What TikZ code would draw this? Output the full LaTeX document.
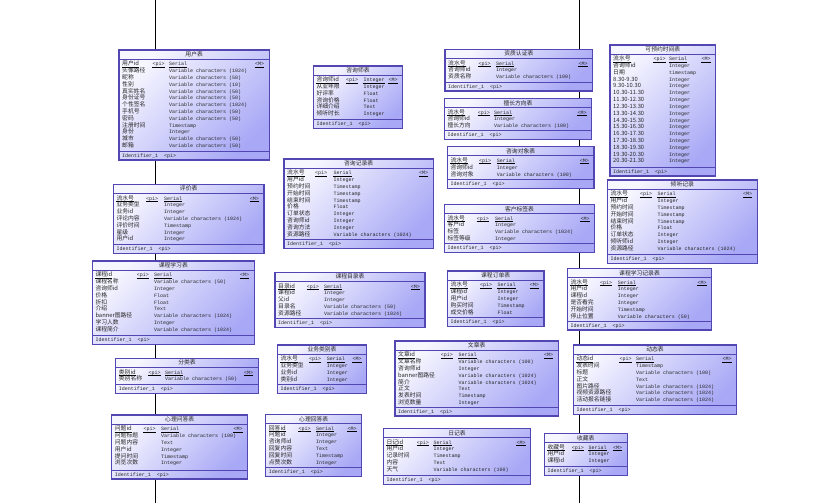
\documentclass[tikz,border=0pt]{standalone}
\usepackage{fontspec}
\setmainfont{Liberation Mono}
\newfontfamily\cjk{Noto Sans CJK SC}

\definecolor{tblborder}{RGB}{82,70,178}
\definecolor{tbltop}{RGB}{246,246,255}
\definecolor{tblbottom}{RGB}{168,168,246}

% one table of the data model: name, left, top, right, bottom, <pi> column, type column, title, rows
\newcommand{\dbtable}[9]{%
  \node[tblbox, minimum width={(#4-#2)*1pt}, minimum height={(#5-#3)*1pt}] (#1) at (#2,#3) {};
  \node[tbltitle] (#1-title) at ([yshift=-4.5pt]#1.north) {#8};
  \draw[tblline] ([yshift=-9pt]#1.north west) -- ([yshift=-9pt]#1.north east);
  \draw[tblline] ([yshift=9pt]#1.south west) -- ([yshift=9pt]#1.south east);
  \begin{scope}
    \clip (#1.north west) rectangle (#1.south east);
    \foreach \fname/\ftype [count=\i] in {#9} {
      \pgfmathsetmacro\rowy{-(14+(\i-1)*6.8)-1.8}
      \node[colname] (#1-n\i) at ([xshift=3pt, yshift=\rowy pt]#1.north west) {\fname};
      \node[coltype] (#1-t\i) at ([xshift=#7pt, yshift=\rowy pt]#1.north west) {\ftype};
      \ifnum\i=1
        \node[coltype] (#1-pi) at ([xshift=#6pt, yshift=\rowy pt]#1.north west) {<pi>};
        \node[coltype, anchor=base east] (#1-m) at ([xshift=-5pt, yshift=\rowy pt]#1.north east) {<M>};
        \foreach \k in {n1,t1,pi,m}
          \draw[pkline] ([yshift=-1.3pt]#1-\k.base west) -- ([yshift=-1.3pt]#1-\k.base east);
      \fi
    }
  \end{scope}
  \node[coltype] (#1-id) at ([xshift=3pt, yshift=2.8pt]#1.south west) {Identifier\_1\ \ <pi>};
}

\begin{document}
\begin{tikzpicture}[x=1pt, y=-1pt,
  tblbox/.style={draw=tblborder, line width=1.2pt, top color=tbltop, bottom color=tblbottom, shading angle=45, anchor=north west, inner sep=0pt, outer sep=0pt},
  tblline/.style={draw=tblborder, line width=0.9pt},
  tbltitle/.style={inner sep=0pt, text=black!85, font=\cjk\fontsize{5.8}{6}\selectfont},
  colname/.style={anchor=base west, inner sep=0pt, text=black!85, font=\cjk\fontsize{5.8}{6}\selectfont},
  coltype/.style={anchor=base west, inner sep=0pt, text=black!85, font=\fontsize{5}{6}\selectfont},
  pkline/.style={draw=black, line width=0.9pt},
  link/.style={draw=black, line width=1pt}]
\useasboundingbox (0,0) rectangle (817,503);
\coordinate (linkL-top) at (155,0);
\coordinate (linkL-bot) at (155,503);
\coordinate (linkR-top) at (579.5,0);
\coordinate (linkR-bot) at (579.5,503);
\draw[link] (linkL-top) -- (linkL-bot);
\draw[link] (linkR-top) -- (linkR-bot);

\dbtable{user}{119}{50}{269.3}{160}{33.3}{50}{用户表}{用户id/Serial, 头像路径/Variable characters (1024), 昵称/Variable characters (50), 性别/Variable characters (10), 真实姓名/Variable characters (50), 身份证号/Variable characters (50), 个性签名/Variable characters (1024), 手机号/Variable characters (50), 密码/Variable characters (50), 注册时间/Timestamp, 身份/Integer, 城市/Variable characters (50), 邮箱/Variable characters (50)}
\dbtable{counselor}{313.3}{66}{402.7}{128.3}{32.7}{50}{咨询师表}{咨询师id/Integer, 从业年限/Integer, 好评率/Float, 咨询价格/Float, 详细介绍/Text, 倾听时长/Integer}
\dbtable{record}{284}{159}{433.3}{248.3}{31}{49.3}{咨询记录表}{流水号/Serial, 用户id/Integer, 预约时间/Timestamp, 开始时间/Timestamp, 结束时间/Timestamp, 价格/Float, 订单状态/Integer, 咨询师id/Integer, 咨询方法/Integer, 资源路径/Variable characters (1024)}
\dbtable{qualify}{445}{49.3}{592.7}{91}{33.3}{51}{资质认证表}{流水号/Serial, 咨询师id/Integer, 资质名称/Variable characters (100)}
\dbtable{skill}{444.3}{98.3}{591.7}{139.3}{33.4}{49.7}{擅长方向表}{流水号/Serial, 咨询师id/Integer, 擅长方向/Variable characters (100)}
\dbtable{target}{447.3}{146.7}{594}{188.3}{31.7}{49.4}{咨询对象表}{流水号/Serial, 咨询师id/Integer, 咨询对象/Variable characters (100)}
\dbtable{slot}{610}{45}{715.7}{176}{43.3}{59}{可预约时间表}{流水号/Serial, 咨询师id/Integer, 日期/timestamp, 8.30-9.30/Integer, 9.30-10.30/Integer, 10.30-11.30/Integer, 11.30-12.30/Integer, 12.30-13.30/Integer, 13.30-14.30/Integer, 14.30-15.30/Integer, 15.30-16.30/Integer, 16.30-17.30/Integer, 17.30-18.30/Integer, 18.30-19.30/Integer, 19.30-20.30/Integer, 20.30-21.30/Integer}
\dbtable{review}{113.3}{184.3}{264}{253.3}{32.7}{50.7}{评价表}{流水号/Serial, 业务类型/Integer, 业务id/Integer, 评论内容/Variable characters (1024), 评价时间/Timestamp, 星级/Integer, 用户id/Integer}
\dbtable{course}{92.3}{261}{254.3}{344.3}{44.4}{61.7}{课程学习表}{课程id/Serial, 课程名称/Variable characters (50), 咨询师id/Integer, 价格/Float, 折扣/Float, 介绍/Text, banner图路径/Variable characters (1024), 学习人数/Integer, 课程简介/Variable characters (1024)}
\dbtable{tag}{444.3}{204.3}{594.7}{252.3}{32.4}{50.7}{客户标签表}{流水号/Serial, 客户id/Integer, 标签/Variable characters (1024), 标签等级/Integer}
\dbtable{listen}{607.3}{180}{757.3}{263.3}{32.7}{50}{倾听记录}{流水号/Serial, 用户id/Integer, 预约时间/Timestamp, 开始时间/Timestamp, 结束时间/Timestamp, 价格/Float, 订单状态/Integer, 倾听师id/Integer, 资源路径/Variable characters (1024)}
\dbtable{order}{447.3}{271}{544}{326.7}{32.7}{50}{课程订单表}{流水号/Serial, 课程id/Integer, 用户id/Integer, 购买时间/Timestamp, 成交价格/Float}
\dbtable{progress}{567.3}{268.3}{711.7}{330}{32.7}{50.4}{课程学习记录表}{流水号/Serial, 用户id/Integer, 课程id/Integer, 是否看完/Integer, 开始时间/Timestamp, 停止位置/Variable characters (50)}
\dbtable{catalog}{275}{272.3}{425}{327.3}{31.7}{49}{课程目录表}{目录id/Serial, 课程id/Integer, 父id/Integer, 目录名/Variable characters (50), 资源路径/Variable characters (1024)}
\dbtable{category}{115.7}{358.3}{258.3}{393.3}{32.6}{49.3}{分类表}{类别id/Serial, 类别名称/Variable characters (50)}
\dbtable{bizcat}{277.3}{345}{366.7}{393.3}{31.7}{49.4}{业务类别表}{流水号/Serial, 业务类型/Integer, 业务id/Integer, 类别id/Integer}
\dbtable{article}{395}{341}{558.3}{416}{45.7}{63.3}{文章表}{文章id/Serial, 文章名称/Variable characters (100), 咨询师id/Integer, banner图路径/Variable characters (1024), 简介/Variable characters (1024), 正文/Text, 发表时间/Timestamp, 浏览数量/Integer}
\dbtable{moment}{573.3}{345}{736.7}{414.3}{46}{62.7}{动态表}{动态id/Serial, 发表时间/Timestamp, 标题/Variable characters (100), 正文/Text, 图片路径/Variable characters (1024), 视频资源路径/Variable characters (1024), 活动报名链接/Variable characters (1024)}
\dbtable{question}{111.7}{415}{247.7}{479}{31.6}{49.3}{心理问答表}{问题id/Serial, 问题标题/Variable characters (100), 问题内容/Text, 用户id/Integer, 提问时间/Timestamp, 浏览次数/Integer}
\dbtable{answer}{265.7}{414.3}{361.7}{476.7}{32.6}{50.3}{心理回答表}{回答id/Serial, 问题id/Integer, 咨询师id/Integer, 回复内容/Text, 回复时间/Timestamp, 点赞次数/Integer}
\dbtable{diary}{383.3}{428.3}{530.7}{484.3}{33.4}{50}{日记表}{日记id/Serial, 用户id/Integer, 记录时间/Timestamp, 内容/Text, 天气/Variable characters (100)}
\dbtable{favorite}{544.3}{433.3}{627.3}{475.7}{27.4}{44}{收藏表}{收藏号/Serial, 用户id/Integer, 课程id/Integer}
\end{tikzpicture}
\end{document}
